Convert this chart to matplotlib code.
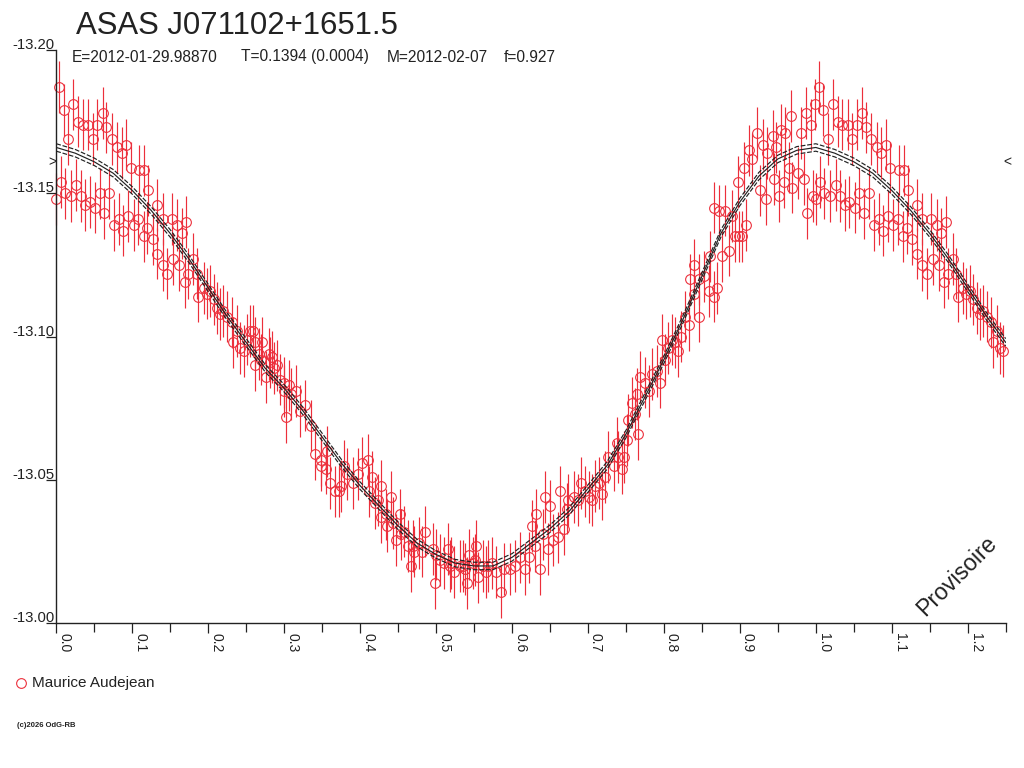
import numpy as np
import matplotlib
matplotlib.use('Agg')
import matplotlib.pyplot as plt
from matplotlib.transforms import offset_copy
from matplotlib.lines import Line2D

# ---------------- data ----------------
phase = [
    0.004, 0.010, 0.022, 0.016, 0.029, 0.035, 0.042, 0.054, 0.061, 0.048,
    0.066, 0.073, 0.080, 0.086, 0.092, 0.098, 0.109, 0.116, 0.121, 0.006,
    0.000, 0.011, 0.019, 0.026, 0.032, 0.038, 0.044, 0.051, 0.057, 0.063,
    0.070, 0.076, 0.083, 0.088, 0.095, 0.102, 0.108, 0.115, 0.120, 0.127,
    0.133, 0.133, 0.140, 0.140, 0.146, 0.152, 0.159, 0.165, 0.171, 0.154,
    0.162, 0.169, 0.174, 0.180, 0.185, 0.187, 0.194, 0.198, 0.203, 0.207,
    0.212, 0.216, 0.220, 0.225, 0.231, 0.233, 0.238, 0.242, 0.247, 0.251,
    0.255,
    0.259, 0.262, 0.271, 0.267, 0.276, 0.280, 0.284, 0.287, 0.291, 0.295,
    0.300, 0.306, 0.315, 0.303, 0.321, 0.328, 0.335, 0.340, 0.348, 0.355,
    0.356, 0.361, 0.367, 0.372, 0.379, 0.383, 0.390, 0.397, 0.402, 0.410,
    0.416, 0.423, 0.428, 0.434, 0.435, 0.441, 0.447, 0.453, 0.458, 0.463,
    0.467, 0.471, 0.478, 0.485, 0.261, 0.269, 0.282, 0.300, 0.309, 0.348,
    0.375, 0.412, 0.419, 0.427, 0.443, 0.454, 0.469, 0.482,
    0.496, 0.498, 0.505, 0.516, 0.518, 0.524, 0.531, 0.535, 0.541, 0.544,
    0.549, 0.553, 0.555, 0.562, 0.566, 0.573, 0.579, 0.585, 0.590, 0.597,
    0.604, 0.610, 0.617, 0.623, 0.626, 0.630, 0.632, 0.637, 0.641, 0.643,
    0.648, 0.650, 0.654, 0.661, 0.663, 0.668, 0.672, 0.674, 0.681, 0.687,
    0.691, 0.696, 0.701, 0.705, 0.709, 0.714, 0.718, 0.723, 0.727, 0.734,
    0.738, 0.740, 0.745, 0.747, 0.751, 0.753, 0.758, 0.762, 0.764, 0.766,
    0.769, 0.500, 0.511, 0.520, 0.538, 0.551, 0.568,
    0.775, 0.780, 0.784, 0.791, 0.795, 0.797, 0.802, 0.806, 0.811, 0.815,
    0.819, 0.822, 0.828, 0.833, 0.839, 0.835, 0.839, 0.846, 0.846, 0.853,
    0.859, 0.861, 0.866, 0.870, 0.866, 0.872, 0.877, 0.881, 0.886, 0.890,
    0.894, 0.899, 0.903, 0.908, 0.898, 0.905, 0.912, 0.916, 0.923, 0.930,
    0.927, 0.934, 0.936, 0.943, 0.947, 0.954, 0.960, 0.965, 0.969, 0.976,
    0.980, 0.985, 0.987, 0.993, 0.999, 0.945, 0.952, 0.958, 0.996, 0.989,
    0.967,
]
mag = [
    -13.187, -13.179, -13.181, -13.169, -13.175, -13.174, -13.174, -13.174, -13.178, -13.169,
    -13.173, -13.169, -13.166, -13.164, -13.167, -13.159, -13.158, -13.158, -13.151, -13.154,
    -13.148, -13.150, -13.149, -13.153, -13.149, -13.146, -13.147, -13.145, -13.150, -13.143,
    -13.150, -13.139, -13.141, -13.137, -13.142, -13.139, -13.141, -13.135, -13.138, -13.134,
    -13.146, -13.129, -13.141, -13.125, -13.122, -13.141, -13.139, -13.136, -13.140, -13.127,
    -13.125, -13.119, -13.122, -13.127, -13.122, -13.114, -13.117, -13.115, -13.116, -13.113,
    -13.110, -13.108, -13.109, -13.107, -13.105, -13.098, -13.102, -13.096, -13.095, -13.099,
    -13.102,
    -13.102, -13.090, -13.098, -13.094, -13.086, -13.094, -13.093, -13.089, -13.090, -13.085,
    -13.084, -13.083, -13.081, -13.072, -13.074, -13.076, -13.069, -13.059, -13.057, -13.054,
    -13.060, -13.049, -13.046, -13.046, -13.055, -13.052, -13.049, -13.052, -13.056, -13.057,
    -13.051, -13.043, -13.048, -13.038, -13.034, -13.044, -13.029, -13.038, -13.032, -13.027,
    -13.020, -13.025, -13.028, -13.032, -13.098, -13.092, -13.091, -13.081, -13.080, -13.055,
    -13.048, -13.046, -13.042, -13.037, -13.035, -13.031, -13.027, -13.025,
    -13.026, -13.014, -13.022, -13.026, -13.020, -13.018, -13.020, -13.020, -13.014, -13.024,
    -13.021, -13.027, -13.016, -13.020, -13.018, -13.021, -13.018, -13.011, -13.019, -13.019,
    -13.020, -13.023, -13.019, -13.023, -13.034, -13.027, -13.038, -13.019, -13.031, -13.044,
    -13.026, -13.041, -13.029, -13.030, -13.046, -13.033, -13.040, -13.043, -13.044, -13.043,
    -13.049, -13.046, -13.044, -13.043, -13.048, -13.049, -13.045, -13.051, -13.058, -13.055,
    -13.063, -13.058, -13.054, -13.058, -13.064, -13.071, -13.077, -13.073, -13.080, -13.066,
    -13.086, -13.024, -13.021, -13.021, -13.019, -13.022, -13.020,
    -13.084, -13.081, -13.087, -13.088, -13.084, -13.099, -13.092, -13.096, -13.099, -13.098,
    -13.095, -13.100, -13.107, -13.104, -13.125, -13.120, -13.115, -13.120, -13.107, -13.121,
    -13.116, -13.128, -13.114, -13.117, -13.145, -13.144, -13.128, -13.144, -13.130, -13.142,
    -13.135, -13.135, -13.135, -13.139, -13.154, -13.159, -13.165, -13.162, -13.171, -13.167,
    -13.151, -13.148, -13.164, -13.170, -13.166, -13.172, -13.171, -13.159, -13.152, -13.157,
    -13.171, -13.155, -13.178, -13.174, -13.181, -13.155, -13.149, -13.154, -13.149, -13.143,
    -13.177,
]
mag_err = 0.009

fit_phase = [0.000, 0.025, 0.050, 0.075, 0.100, 0.125, 0.150, 0.175, 0.200, 0.225,
             0.250, 0.275, 0.300, 0.325, 0.350, 0.375, 0.400, 0.425, 0.450, 0.475,
             0.500, 0.525, 0.550, 0.575, 0.600, 0.625, 0.650, 0.675, 0.700, 0.725,
             0.750, 0.775, 0.800, 0.825, 0.850, 0.875, 0.900, 0.925, 0.950, 0.975,
             1.000]
fit_mag = [-13.166, -13.164, -13.161, -13.157, -13.151, -13.144, -13.136, -13.127, -13.117, -13.107,
           -13.098, -13.089, -13.082, -13.074, -13.065, -13.056, -13.048, -13.041, -13.034, -13.028,
           -13.024, -13.021, -13.020, -13.020, -13.023, -13.028, -13.033, -13.039, -13.047, -13.055,
           -13.066, -13.079, -13.092, -13.106, -13.121, -13.136, -13.147, -13.156, -13.162, -13.165,
           -13.166]
fit_band = 0.0013
mark_level = -13.161

yticks = [-13.20, -13.15, -13.10, -13.05, -13.00]
ytick_labels = ['-13.20', '-13.15', '-13.10', '-13.05', '-13.00']
xticks_major = [0.0, 0.1, 0.2, 0.3, 0.4, 0.5, 0.6, 0.7, 0.8, 0.9, 1.0, 1.1, 1.2]
xtick_labels = ['0.0', '0.1', '0.2', '0.3', '0.4', '0.5', '0.6', '0.7', '0.8', '0.9', '1.0', '1.1', '1.2']
xticks_minor = [0.05, 0.15, 0.25, 0.35, 0.45, 0.55, 0.65, 0.75, 0.85, 0.95, 1.05, 1.15, 1.25]

title = 'ASAS J071102+1651.5'
subtitle_parts = ['E=2012-01-29.98870', 'T=0.1394 (0.0004)', 'M=2012-02-07', 'f=0.927']
observer = 'Maurice Audejean'
watermark = 'Provisoire'
copyright_txt = '(c)2026 OdG-RB'

# ---------------- style ----------------
RED = '#ec2f3b'
INK = '#222222'
FONT = ['Liberation Sans', 'DejaVu Sans']
plt.rcParams['font.family'] = FONT

W, H = 1024, 768
fig = plt.figure(figsize=(W / 100, H / 100), dpi=100)
ax_l, ax_r, ax_t, ax_b = 56.3, 1005.7, 50.0, 623.3
ax = fig.add_axes([ax_l / W, 1 - ax_b / H, (ax_r - ax_l) / W, (ax_b - ax_t) / H])

ph = np.array(phase)
mg = np.array(mag)
wrap = ph <= 0.25
ph_all = np.concatenate([ph, ph[wrap] + 1.0])
mg_all = np.concatenate([mg, mg[wrap]])

eb = ax.errorbar(ph_all, mg_all, yerr=mag_err, fmt='o', ms=7.0, mfc='none',
                 mec=RED, mew=0.8, ecolor=RED, elinewidth=0.85, capsize=0, zorder=2)
eb[0].set_clip_on(False)
for c in eb[2]:
    c.set_clip_on(False)

fp = np.array(fit_phase)
fm = np.array(fit_mag)
fwrap = (fp > 0) & (fp <= 0.25)
fp_all = np.concatenate([fp, fp[fwrap] + 1.0])
fm_all = np.concatenate([fm, fm[fwrap]])
ax.plot(fp_all, fm_all, color=INK, lw=0.85, zorder=3)
ax.plot(fp_all, fm_all - fit_band, color=INK, lw=0.85, ls=(0, (4, 1.5)), zorder=3)
ax.plot(fp_all, fm_all + fit_band, color=INK, lw=0.85, ls=(0, (4, 1.5)), zorder=3)

ax.set_xlim(0, 1.25)
ax.set_ylim(-13.00, -13.20)
for s in ['top', 'right']:
    ax.spines[s].set_visible(False)
for s in ['left', 'bottom']:
    ax.spines[s].set_color(INK)
    ax.spines[s].set_linewidth(1.0)

ax.set_xticks(xticks_major)
ax.set_xticks(xticks_minor, minor=True)
ax.set_yticks(yticks)
ax.tick_params(axis='x', which='major', length=7.5, width=0.9, color=INK, labelbottom=False)
ax.tick_params(axis='x', which='minor', length=6.5, width=0.9, color=INK)
ax.tick_params(axis='y', which='major', length=7.5, width=0.9, color=INK, labelleft=False)
ax.tick_params(axis='y', which='minor', left=False)

xt = offset_copy(ax.get_xaxis_transform(), fig=fig, x=1.0, y=-10.0, units='dots')
for v, lab in zip(xticks_major, xtick_labels):
    ax.text(v, 0, lab, transform=xt, rotation=-90, ha='left', va='top',
            fontsize=10, color=INK)

yt = offset_copy(ax.get_yaxis_transform(), fig=fig, x=-1.5, y=1.0, units='dots')
for v, lab in zip(yticks, ytick_labels):
    ax.text(0, v, lab, transform=yt, ha='right', va='baseline', fontsize=10.7, color=INK)

# level markers
ax.text(0, mark_level, '>', transform=offset_copy(ax.get_yaxis_transform(), fig=fig, x=-4, y=0, units='dots'),
        ha='center', va='center', fontsize=10, color=INK)
ax.text(1, mark_level, '<', transform=offset_copy(ax.get_yaxis_transform(), fig=fig, x=1.5, y=0, units='dots'),
        ha='center', va='center', fontsize=10, color=INK)

# titles
fig.text(75.8 / W, 1 - 33.8 / H, title, fontsize=22.4, color=INK, va='baseline', ha='left')
for xpx, part in zip([71.9, 241.0, 386.5, 503.8], subtitle_parts):
    fig.text(xpx / W, 1 - 61.5 / H, part, fontsize=11.2, color=INK, va='baseline', ha='left')

# watermark
fig.text(957 / W, 1 - 576 / H, watermark, rotation=45, ha='center', va='center',
         fontsize=16.7, color=INK, rotation_mode='anchor')

# legend
fig.add_artist(Line2D([21 / W], [1 - 682.7 / H], marker='o', ms=7.0, mfc='none', mec=RED,
                      mew=0.8, ls='none', transform=fig.transFigure))
fig.text(32.3 / W, 1 - 687.3 / H, observer, fontsize=11, color=INK, va='baseline', ha='left')

fig.text(17.3 / W, 1 - 725.7 / H, copyright_txt, fontsize=5.5, color=INK, va='center',
         ha='left', weight='bold')

fig.savefig('out.png', dpi=100, facecolor='white')
